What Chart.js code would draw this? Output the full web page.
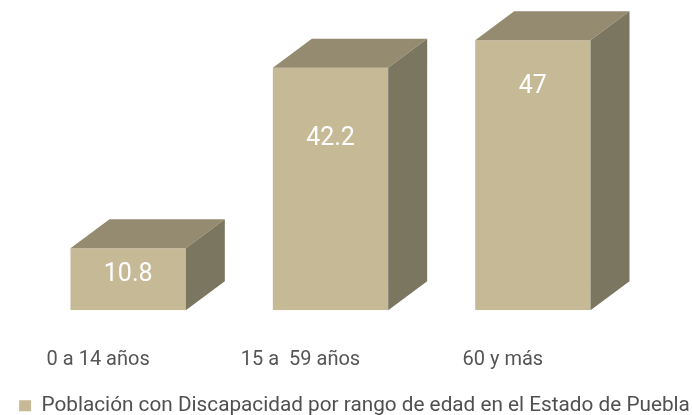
<!doctype html>
<html lang="es">

<head>
    <meta charset="utf-8">
    <title>Discapacidad Puebla</title>
    <script src="https://cdn.jsdelivr.net/npm/chart.js"></script>
    <style>
        html, body { margin: 0; padding: 0; background: #fff; }
        #wrap { width: 692px; height: 415px; }
    </style>
</head>

<body>
    <div id="wrap"><canvas id="barras"></canvas></div>
    <script>
        // datos
        const rangos = ["0 a 14 años", "15 a  59 años", "60 y más"];
        const poblacion = [10.8, 42.2, 47];
        const serie = "Población con Discapacidad por rango de edad en el Estado de Puebla";

        // colores de las caras del prisma
        const frente = "#c6ba96";
        const tapa = "#958b70";
        const lado = "#7b7660";
        const fondoX = 39, fondoY = 29;
        // distancia de la etiqueta al borde superior de cada barra
        const bajarEtiqueta = [27, 71, 47];

        const cubos = {
            id: 'cubos',
            afterDatasetsDraw(chart) {
                const ctx = chart.ctx;
                const meta = chart.getDatasetMeta(0);
                ctx.save();
                meta.data.forEach((bar, i) => {
                    const izq = bar.x - bar.width / 2;
                    const der = bar.x + bar.width / 2;
                    const arriba = bar.y;
                    const abajo = bar.base;

                    ctx.fillStyle = tapa;
                    ctx.beginPath();
                    ctx.moveTo(izq, arriba);
                    ctx.lineTo(izq + fondoX, arriba - fondoY);
                    ctx.lineTo(der + fondoX, arriba - fondoY);
                    ctx.lineTo(der, arriba);
                    ctx.closePath();
                    ctx.fill();

                    ctx.fillStyle = lado;
                    ctx.beginPath();
                    ctx.moveTo(der, arriba);
                    ctx.lineTo(der + fondoX, arriba - fondoY);
                    ctx.lineTo(der + fondoX, abajo - fondoY);
                    ctx.lineTo(der, abajo);
                    ctx.closePath();
                    ctx.fill();

                    ctx.fillStyle = "#ffffff";
                    ctx.font = "25px Roboto";
                    ctx.textAlign = "center";
                    ctx.textBaseline = "middle";
                    ctx.fillText(String(poblacion[i]), bar.x, arriba + bajarEtiqueta[i]);
                });
                ctx.restore();
            }
        };

        new Chart(document.getElementById('barras'), {
            type: 'bar',
            data: {
                labels: rangos,
                datasets: [{
                    label: serie,
                    data: poblacion,
                    backgroundColor: frente,
                    borderWidth: 0,
                    barPercentage: 1,
                    categoryPercentage: 0.57
                }]
            },
            options: {
                responsive: true,
                maintainAspectRatio: false,
                animation: false,
                layout: { padding: { top: 23, left: 17, right: 0, bottom: -11 } },
                scales: {
                    x: {
                        grid: { display: false },
                        border: { display: false },
                        ticks: {
                            color: "#555",
                            font: { family: "Roboto", size: 20 },
                            padding: 30,
                            labelOffset: -30
                        },
                        afterFit(s) { s.height = 60; }
                    },
                    y: {
                        min: 0,
                        max: 50,
                        grid: { display: false },
                        border: { display: false },
                        ticks: { display: false },
                        afterFit(s) { s.width = 10; }
                    },
                    derecha: {
                        position: 'right',
                        grid: { display: false },
                        border: { display: false },
                        ticks: { display: false },
                        afterFit(s) { s.width = 58; }
                    }
                },
                plugins: {
                    tooltip: { enabled: false },
                    legend: {
                        position: 'bottom',
                        labels: {
                            color: "#505050",
                            font: { family: "Roboto", size: 20.75 },
                            boxWidth: 12,
                            boxHeight: 11,
                            padding: 25
                        }
                    }
                }
            },
            plugins: [cubos]
        });
    </script>
</body>

</html>
